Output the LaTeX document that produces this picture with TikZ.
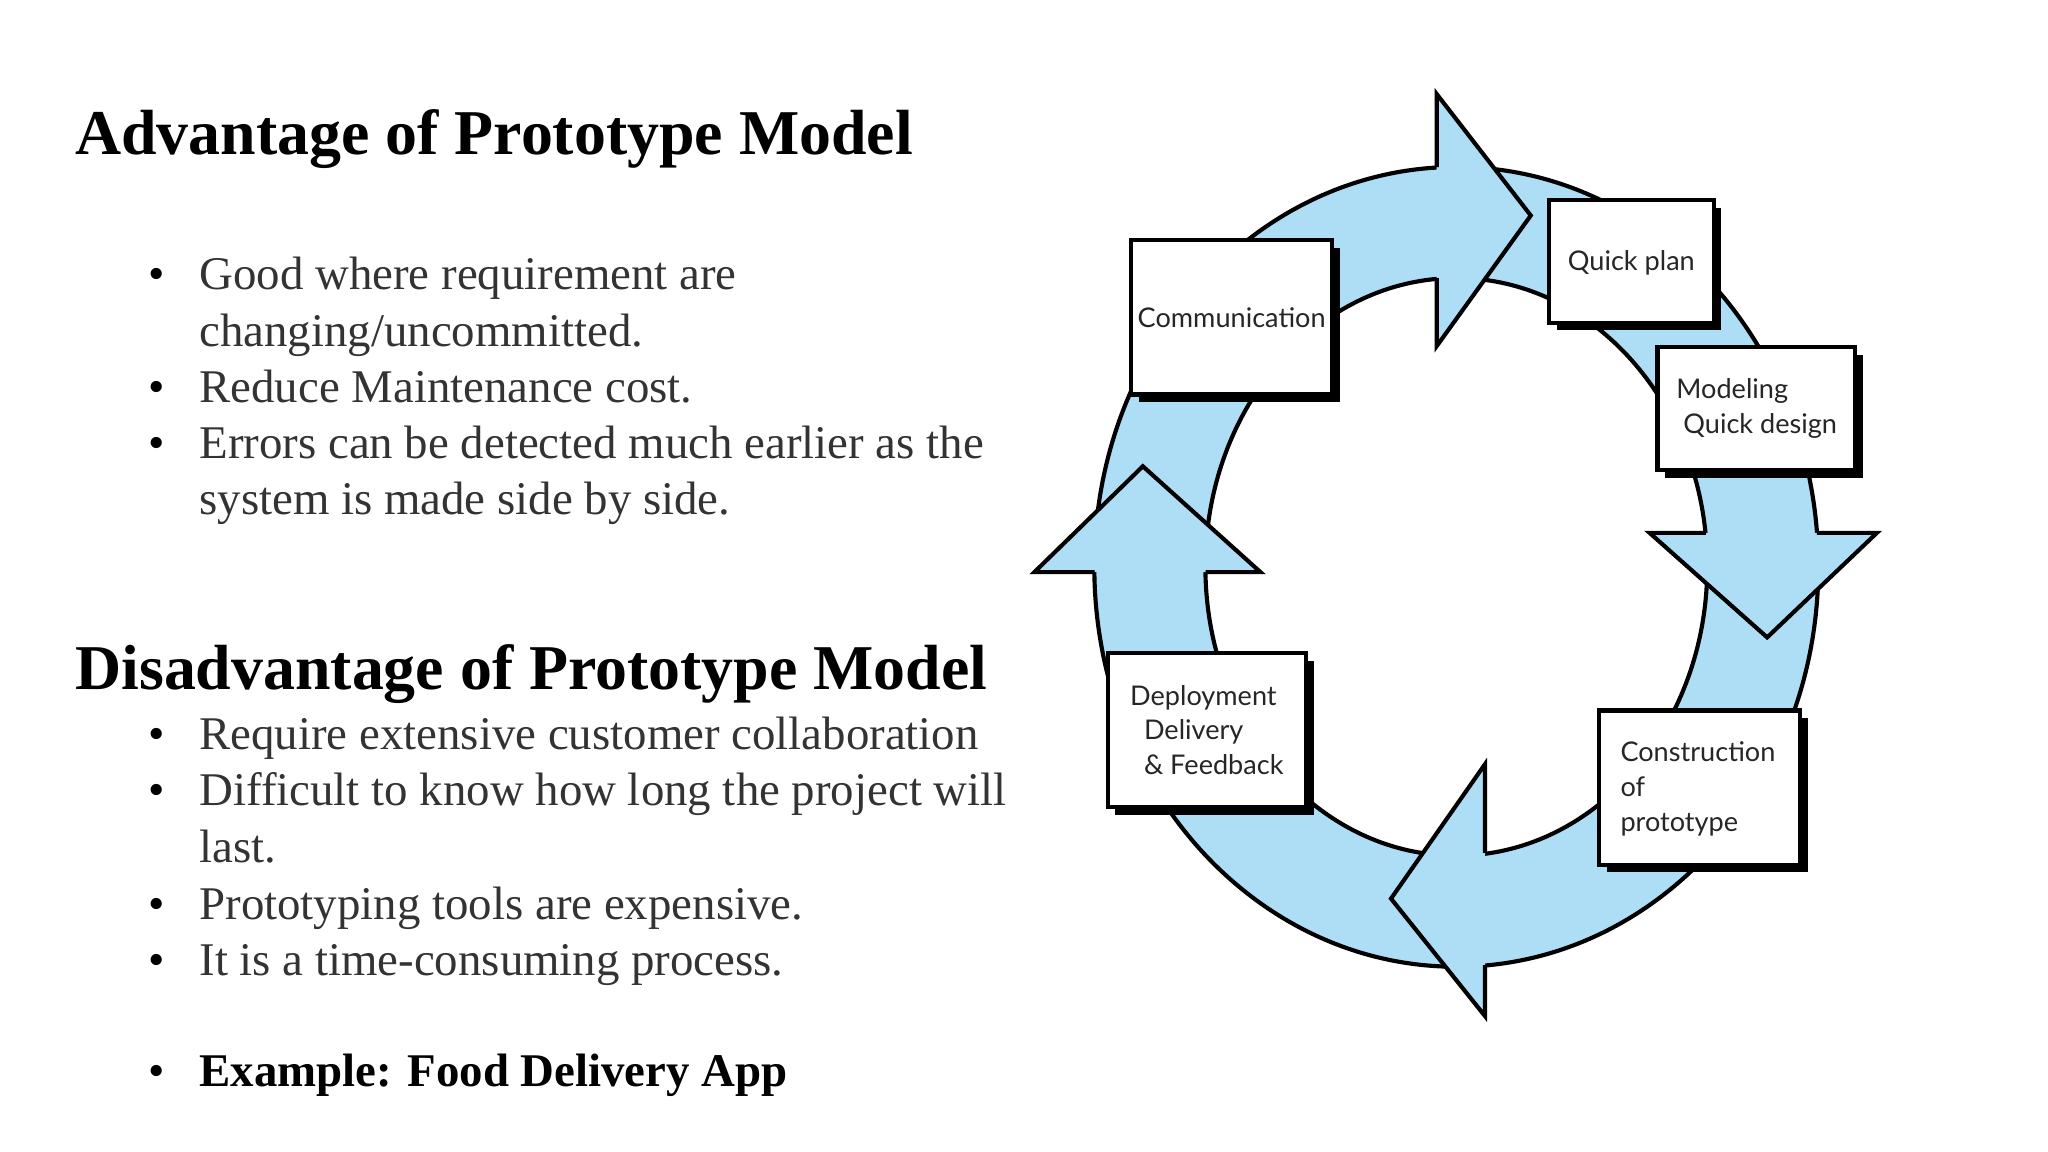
\documentclass[tikz,border=0pt]{standalone}
\usepackage{fontspec}
\setmainfont{Liberation Serif}
\newfontfamily\boxfont{Lato}
\definecolor{ringblue}{RGB}{173,222,245}
\begin{document}
\begin{tikzpicture}[x=0.01cm,y=-0.01cm,
  title/.style={anchor=base west,inner sep=0,font=\fontsize{13.9pt}{15pt}\selectfont\bfseries},
  txt/.style={anchor=base west,inner sep=0,font=\fontsize{10.2pt}{12pt}\selectfont,text=black!80},
  bul/.style={anchor=base,inner sep=0,font=\fontsize{10.2pt}{12pt}\selectfont},
  box/.style={draw=black,line width=0.9pt,fill=white,inner sep=0},
  shad/.style={fill=black},
  lbl/.style={inner sep=0,font=\boxfont\fontsize{5.9pt}{7.6pt}\selectfont,text=black!85,align=left},
  edge/.style={draw=black,line width=0.9pt}]
\useasboundingbox (0,0) rectangle (1568,882);
% texts
\node[title] (t1) at (57,118) {Advantage of Prototype Model};
\node[bul] (b1) at (120,222) {\textbullet};
\node[txt] (l1) at (152,222) {Good where requirement are};
\node[txt] (l2) at (152,265) {changing/uncommitted.};
\node[bul] (b2) at (120,308) {\textbullet};
\node[txt] (l3) at (152,308) {Reduce Maintenance cost.};
\node[bul] (b3) at (120,351) {\textbullet};
\node[txt] (l4) at (152,351) {Errors can be detected much earlier as the};
\node[txt] (l5) at (152,394) {system is made side by side.};
\node[title] (t2) at (57,528) {Disadvantage of Prototype Model};
\node[bul] (b4) at (120,574) {\textbullet};
\node[txt] (m1) at (152,574) {Require extensive customer collaboration};
\node[bul] (b5) at (120,617) {\textbullet};
\node[txt] (m2) at (152,617) {Difficult to know how long the project will};
\node[txt] (m3) at (152,660) {last.};
\node[bul] (b6) at (120,704) {\textbullet};
\node[txt] (m4) at (152,704) {Prototyping tools are expensive.};
\node[bul] (b7) at (120,747) {\textbullet};
\node[txt] (m5) at (152,747) {It is a time-consuming process.};
\node[bul] (b8) at (120,832) {\textbullet};
\node[txt,text=black,font=\fontsize{10.2pt}{12pt}\selectfont\bfseries] (m6) at (152,832) {Example: Food Delivery App};
% ring
\fill[ringblue,even odd rule] (1115,434) ellipse [x radius=2.77cm,y radius=3.06cm]
  (1115,434) ellipse [x radius=1.92cm,y radius=2.21cm];
\draw[edge] (1115,434) ellipse [x radius=2.77cm,y radius=3.06cm];
\draw[edge] (1115,434) ellipse [x radius=1.92cm,y radius=2.21cm];
% arrowheads
\fill[ringblue] (1100,72)--(1172,165)--(1100,265)--cycle;
\draw[edge,line join=miter] (1100,128)--(1100,72)--(1172,165)--(1100,265)--(1100,213);
\fill[ringblue] (1263,408)--(1437,408)--(1353,488)--cycle;
\draw[edge] (1306,408)--(1263,408)--(1353,488)--(1437,408)--(1391,408);
\fill[ringblue] (1137,585)--(1065,688)--(1137,778)--cycle;
\draw[edge] (1137,653)--(1137,585)--(1065,688)--(1137,778)--(1137,739);
\fill[ringblue] (792,438)--(875,357)--(965,438)--cycle;
\draw[edge] (838,438)--(792,438)--(875,357)--(965,438)--(923,438);
% boxes
\foreach \n/\xa/\ya/\xb/\yb in {c/866/184/1020/302, q/1186/153/1312/247, m/1269/266/1420/360, p/1224/544/1378/662, d/848/500/1000/618}{
  \fill[shad] (\xa+6,\ya+6) rectangle (\xb+6,\yb+6);
  \draw[box] (\xa,\ya) rectangle (\xb,\yb);
}
\node[lbl] (cl) at (943,243) {Communication};
\node[lbl] (ql) at (1249,201) {Quick plan};
\node[lbl] (ml) at (1345,313) {Modeling\\\ Quick design};
\node[lbl] (pl) at (1300,604) {Construction\\of\\prototype};
\node[lbl] (dl) at (924,559) {Deployment\\\ \ Delivery\\\ \ \& Feedback};
\end{tikzpicture}
\end{document}
